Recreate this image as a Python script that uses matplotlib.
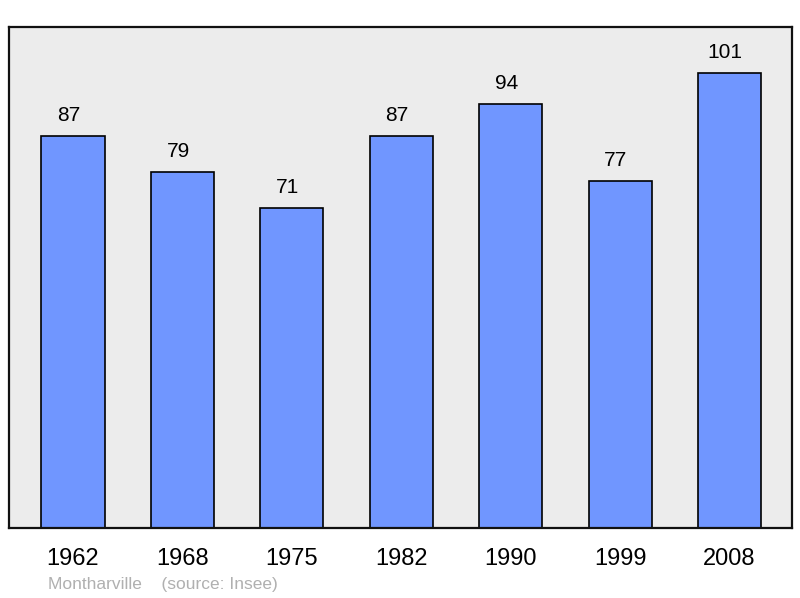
import matplotlib
matplotlib.use("Agg")
import matplotlib.pyplot as plt

# population data
years = ["1962", "1968", "1975", "1982", "1990", "1999", "2008"]
population = [87, 79, 71, 87, 94, 77, 101]

plt.rcParams['font.family'] = ['Liberation Sans', 'DejaVu Sans']

fig = plt.figure(figsize=(8, 5.98), dpi=100)
ax = fig.add_axes([9/800, 1 - 528/598, 783/800, 501/598])
ax.set_facecolor('#ececec')

xs = range(len(years))
ax.bar(xs, population, width=0.576, color='#7096ff', edgecolor='black', linewidth=1.2, zorder=2)

for x, v in zip(xs, population):
    ax.annotate(str(v), (x, v), xytext=(-3, 11), textcoords='offset points',
                ha='center', va='baseline', fontsize=15)

ax.set_xlim(-0.585, 6.571)
ax.set_ylim(0, 111.2)
ax.set_xticks(list(xs))
ax.set_xticklabels(years, fontsize=17)
ax.tick_params(axis='x', length=0, pad=14.5)
ax.set_yticks([])
for s in ax.spines.values():
    s.set_linewidth(1.6)
    s.set_color('#111111')

fig.text(48/800, 1 - 585/598, "Montharville    (source: Insee)", fontsize=12.5,
         color='#b0b0b0', va='center', ha='left')

fig.savefig("out.png", dpi=100)
